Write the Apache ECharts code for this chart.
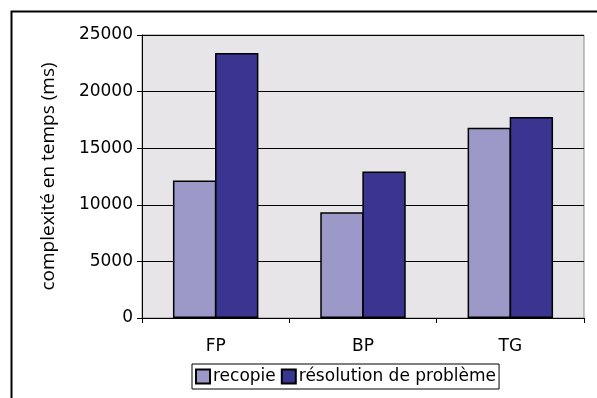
<!DOCTYPE html>
<html>
<head>
<meta charset="utf-8">
<script src="https://cdn.jsdelivr.net/npm/echarts@6/dist/echarts.min.js"></script>
<style>
  html, body { margin: 0; padding: 0; background: #ffffff; }
  #chart { width: 597px; height: 398px; }
</style>
</head>
<body>
<div id="chart"></div>
<script>
// Categories and measured times (ms)
var categories = ['FP', 'BP', 'TG'];
var seriesNames = ['recopie', 'résolution de problème'];
var recopie = [12150, 9350, 16800];
var resolution = [23400, 12950, 17750];
var yTicks = { min: 0, max: 25000, step: 5000 };
var yAxisTitle = 'complexité en temps (ms)';

var chart = echarts.init(document.getElementById('chart'), null, { renderer: 'canvas' });

var labelFont = 'DejaVu Sans, Verdana, sans-serif';
var barBorder = { borderColor: '#000000', borderWidth: 1.5 };

chart.setOption({
  animation: false,
  backgroundColor: '#ffffff',
  graphic: [{
    type: 'rect',
    left: 9, top: 9,
    shape: { width: 600, height: 400 },
    style: { fill: 'none', stroke: '#000000', lineWidth: 2 },
    z: 100
  }],
  grid: {
    left: 142, right: 13, top: 35, bottom: 80,
    show: true,
    backgroundColor: '#e7e5e7',
    borderColor: '#8a8a8a',
    borderWidth: 1
  },
  legend: {
    data: seriesNames,
    left: 192, top: 364,
    itemWidth: 14, itemHeight: 14,
    itemGap: 5,
    padding: [4, 3, 4, 3],
    borderColor: '#000000', borderWidth: 1,
    icon: 'rect',
    textStyle: { fontFamily: labelFont, fontSize: 17, color: '#000000', padding: [0, 0, 0, -2] }
  },
  xAxis: {
    type: 'category',
    data: categories,
    axisLine: { lineStyle: { color: '#000000', width: 1 } },
    axisTick: { show: true, length: 5, lineStyle: { color: '#000000' } },
    axisLabel: { fontFamily: labelFont, fontSize: 17, color: '#000000', margin: 20 },
    splitLine: { show: false }
  },
  yAxis: {
    type: 'value',
    min: yTicks.min, max: yTicks.max, interval: yTicks.step,
    name: yAxisTitle,
    nameLocation: 'middle',
    nameGap: 84,
    nameTextStyle: { fontFamily: 'Open Sans, sans-serif', fontSize: 19, color: '#000000' },
    axisLine: { show: true, lineStyle: { color: '#000000', width: 1 } },
    axisTick: { show: true, length: 5, lineStyle: { color: '#000000' } },
    axisLabel: {
      fontFamily: labelFont, fontSize: 17, color: '#000000', margin: 9,
      formatter: function (v) { return String(v); }
    },
    splitLine: { show: true, lineStyle: { color: '#000000', width: 1 } }
  },
  series: [{
    name: seriesNames[0],
    type: 'bar',
    data: recopie,
    barGap: '-3%',
    barCategoryGap: '42%',
    itemStyle: Object.assign({ color: '#9c99c9' }, barBorder)
  }, {
    name: seriesNames[1],
    type: 'bar',
    data: resolution,
    barGap: '-3%',
    barCategoryGap: '42%',
    itemStyle: Object.assign({ color: '#3a3590' }, barBorder)
  }]
});
</script>
</body>
</html>
